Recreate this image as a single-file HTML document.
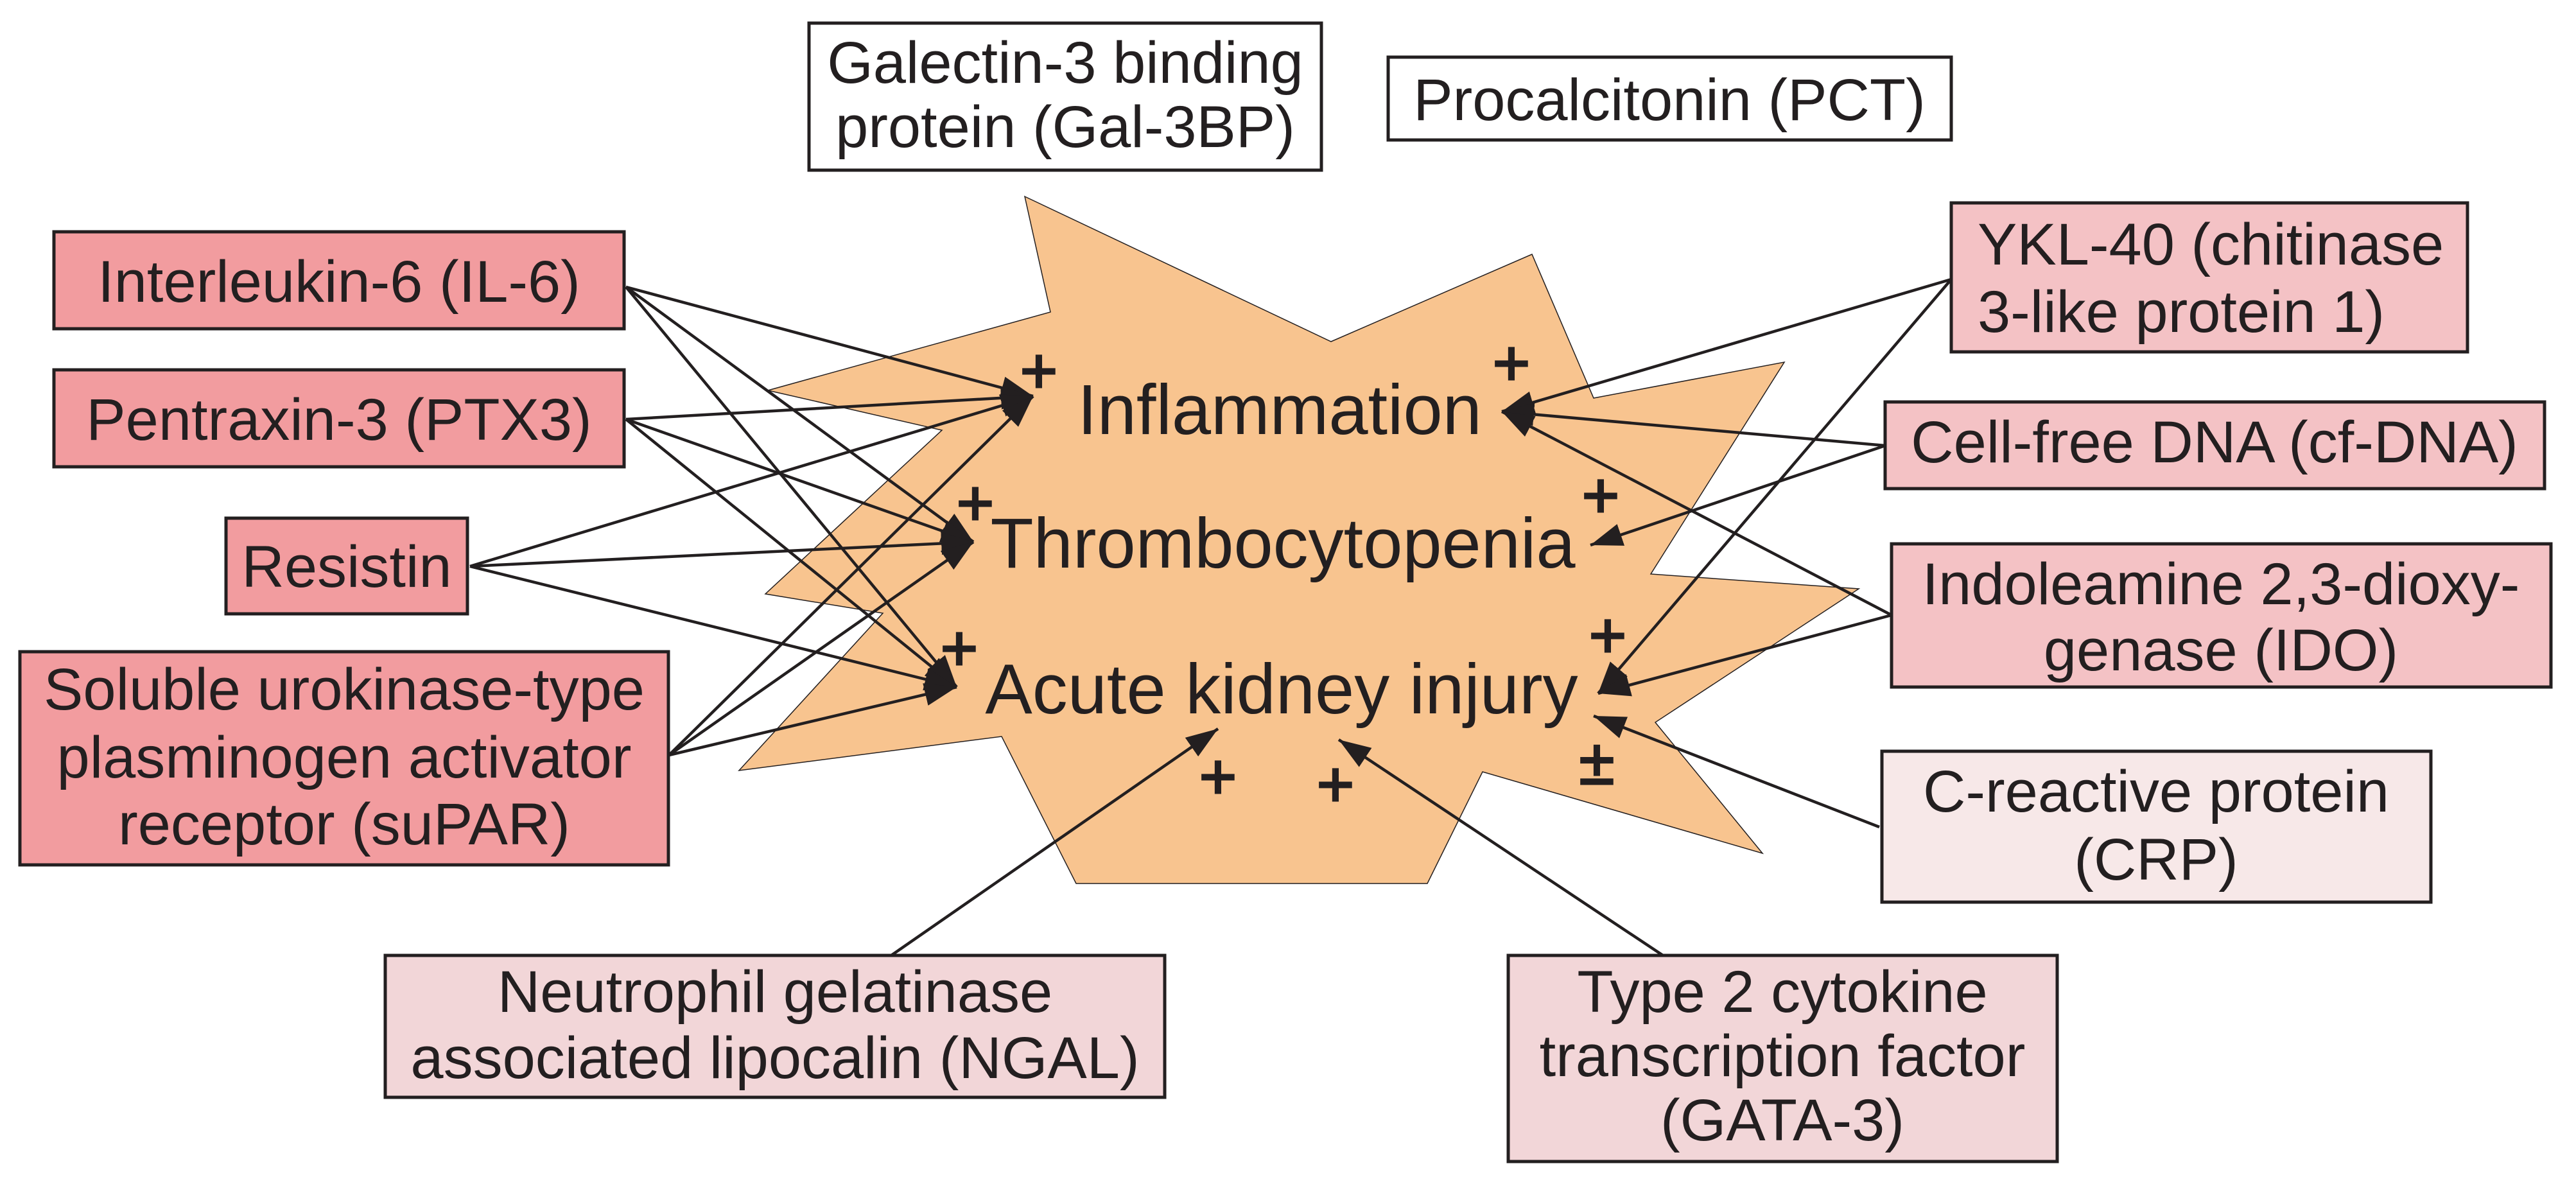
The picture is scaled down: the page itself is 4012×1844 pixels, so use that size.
<!DOCTYPE html>
<html><head><meta charset="utf-8"><style>html,body{margin:0;padding:0;background:#fff}svg{display:block}</style></head>
<body>
<svg width="4012" height="1844" viewBox="0 0 4012 1844" xmlns="http://www.w3.org/2000/svg" font-family="Liberation Sans, Arial, sans-serif" fill="#231f20">
<defs>
<marker id="ah" viewBox="0 0 14 10" refX="14" refY="5" markerWidth="50" markerHeight="36" markerUnits="userSpaceOnUse" orient="auto"><path d="M0,0 L14,5 L0,10 z" fill="#231f20"/></marker>
</defs>
<polygon points="1596,306 2073,532 2386,396 2482,620 2779,564 2571,894 2895,917 2578,1125 2745,1329 2309,1202 2223,1376 1676,1376 1560,1147 1151,1200 1375,955 1192,925 1467,670 1196,608 1636,486" fill="#f8c48f" stroke="#231f20" stroke-width="1.5"/>

<g stroke="#231f20" stroke-width="5">
<rect x="84" y="361" width="888" height="151" fill="#f29c9f"/>
<rect x="84" y="576" width="888" height="151" fill="#f29c9f"/>
<rect x="352" y="807" width="376" height="149" fill="#f29c9f"/>
<rect x="31" y="1015" width="1010" height="332" fill="#f29c9f"/>
<rect x="1260" y="36" width="798" height="229" fill="#fff"/>
<rect x="2162" y="89" width="877" height="129" fill="#fff"/>
<rect x="3039" y="316" width="804" height="232" fill="#f4c2c5"/>
<rect x="2936" y="626" width="1027" height="135" fill="#f4c2c5"/>
<rect x="2946" y="847" width="1027" height="223" fill="#f4c2c5"/>
<rect x="2931" y="1170" width="855" height="235" fill="#f7e8e8"/>
<rect x="600" y="1488" width="1214" height="221" fill="#f2d6d8"/>
<rect x="2349" y="1488" width="855" height="321" fill="#f2d6d8"/>
</g>

<g stroke="#231f20" stroke-width="4.5" fill="none" marker-end="url(#ah)">
<line x1="975" y1="447" x2="1609" y2="617"/>
<line x1="975" y1="447" x2="1516" y2="844"/>
<line x1="975" y1="447" x2="1490" y2="1070"/>
<line x1="975" y1="653" x2="1609" y2="617"/>
<line x1="975" y1="653" x2="1516" y2="844"/>
<line x1="975" y1="653" x2="1490" y2="1070"/>
<line x1="732" y1="882" x2="1609" y2="617"/>
<line x1="732" y1="882" x2="1516" y2="844"/>
<line x1="732" y1="882" x2="1490" y2="1070"/>
<line x1="1042" y1="1176" x2="1609" y2="617"/>
<line x1="1042" y1="1176" x2="1516" y2="844"/>
<line x1="1042" y1="1176" x2="1490" y2="1070"/>
<line x1="1388" y1="1488" x2="1897" y2="1135"/>
<line x1="3039" y1="435" x2="2339" y2="641"/>
<line x1="3039" y1="435" x2="2489" y2="1080"/>
<line x1="2936" y1="694" x2="2339" y2="641"/>
<line x1="2936" y1="694" x2="2477" y2="849"/>
<line x1="2946" y1="958" x2="2339" y2="641"/>
<line x1="2946" y1="958" x2="2489" y2="1080"/>
<line x1="2927" y1="1288" x2="2482" y2="1115"/>
<line x1="2590" y1="1488" x2="2085" y2="1152"/>
</g>

<g font-size="92" text-anchor="middle">
<text x="528" y="470">Interleukin-6 (IL-6)</text>
<text x="528" y="685">Pentraxin-3 (PTX3)</text>
<text x="540" y="914">Resistin</text>
<text x="536" y="1105">Soluble urokinase-type</text>
<text x="536" y="1211">plasminogen activator</text>
<text x="536" y="1315">receptor (suPAR)</text>
<text x="1659" y="129">Galectin-3 binding</text>
<text x="1659" y="229">protein (Gal-3BP)</text>
<text x="2600" y="187">Procalcitonin (PCT)</text>
<text x="3449" y="720">Cell-free DNA (cf-DNA)</text>
<text x="3459" y="941">Indoleamine 2,3-dioxy-</text>
<text x="3459" y="1044">genase (IDO)</text>
<text x="3358" y="1264">C-reactive protein</text>
<text x="3358" y="1370">(CRP)</text>
<text x="1207" y="1576">Neutrophil gelatinase</text>
<text x="1207" y="1679">associated lipocalin (NGAL)</text>
<text x="2776" y="1576">Type 2 cytokine</text>
<text x="2776" y="1676">transcription factor</text>
<text x="2776" y="1776">(GATA-3)</text>
</g>
<g font-size="92">
<text x="3080" y="412">YKL-40 (chitinase</text>
<text x="3080" y="517">3-like protein 1)</text>
</g>
<g font-size="110" text-anchor="middle">
<text x="1993" y="676">Inflammation</text>
<text x="1998" y="884">Thrombocytopenia</text>
<text x="1996" y="1111">Acute kidney injury</text>
</g>
<g font-size="100" text-anchor="middle" stroke="#231f20" stroke-width="3">
<text x="1618" y="612">+</text>
<text x="2354" y="600">+</text>
<text x="1519" y="818">+</text>
<text x="2493" y="806">+</text>
<text x="1494" y="1044">+</text>
<text x="2504" y="1024">+</text>
<text x="2487" y="1221">±</text>
<text x="1897" y="1244">+</text>
<text x="2080" y="1256">+</text>
</g>
</svg>
</body></html>
